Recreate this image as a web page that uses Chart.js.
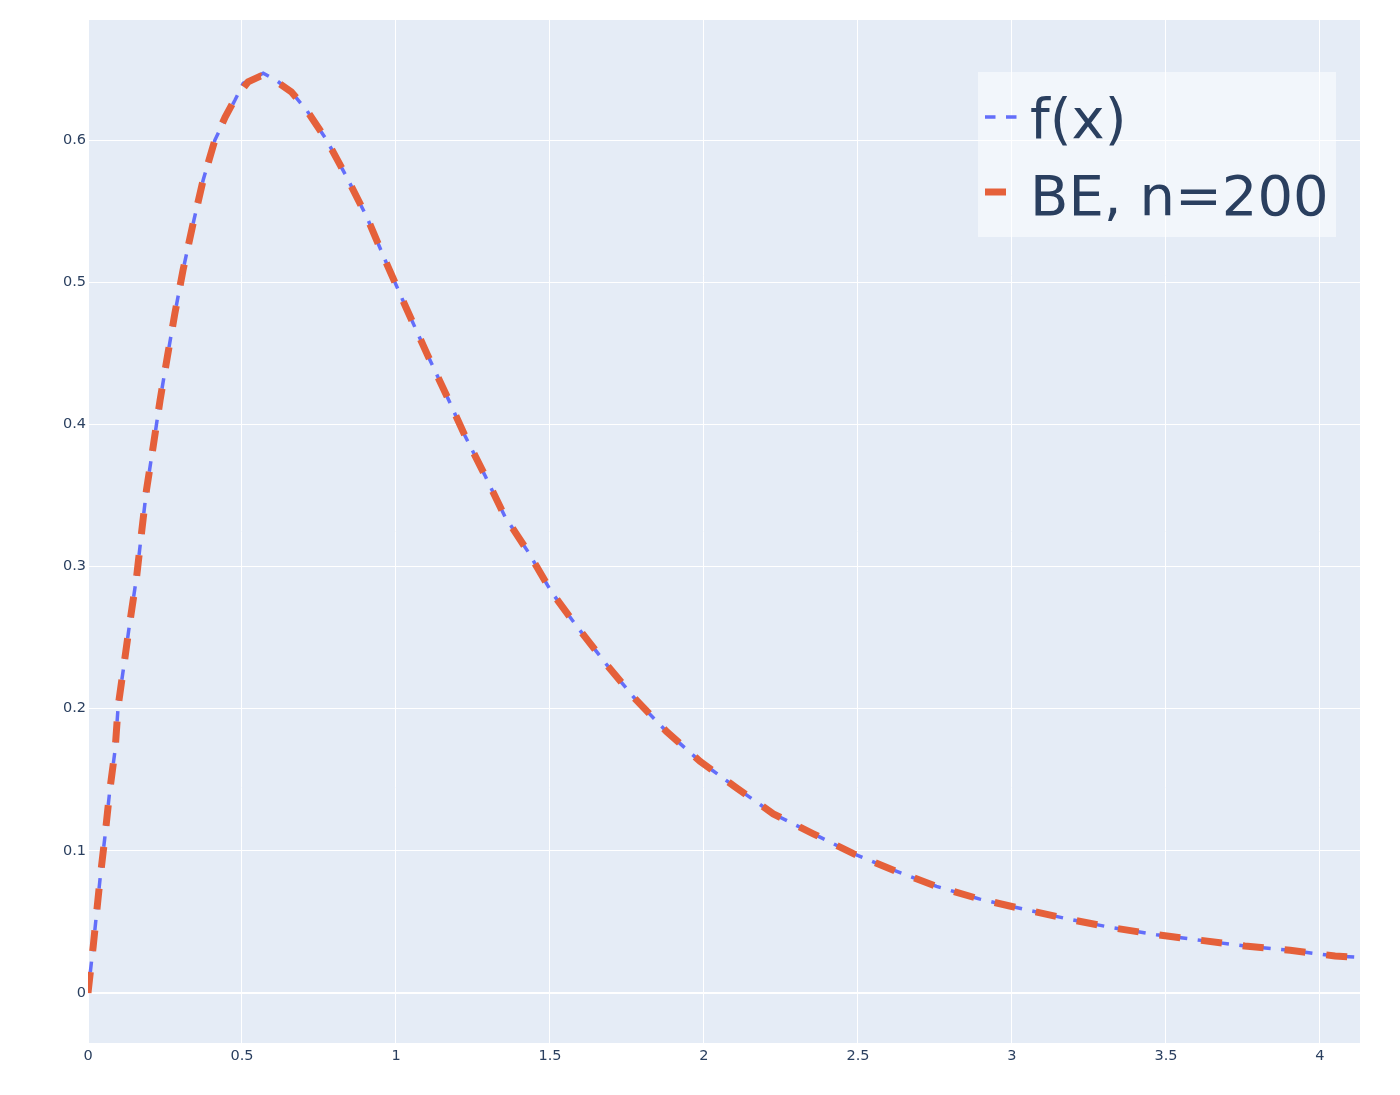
<!DOCTYPE html>
<html>
<head>
<meta charset="utf-8">
<script src="https://cdn.jsdelivr.net/npm/chart.js@4/dist/chart.umd.min.js"></script>
<style>
  html, body { margin: 0; padding: 0; background: #ffffff; }
  #c { display: block; }
</style>
</head>
<body>
<canvas id="c" width="1400" height="1095"></canvas>
<script>
// ---- data ----
const seriesNames = ["f(x)", "BE, n=200"];

const fX = [0, 0.017, 0.039, 0.055, 0.071, 0.088, 0.098, 0.115, 0.136, 0.158, 0.174, 0.190, 0.212, 0.234, 0.258, 0.282,
  0.309, 0.342, 0.374, 0.412, 0.445, 0.477, 0.504, 0.569, 0.612, 0.660, 0.710, 0.775, 0.840, 0.905, 0.970, 1.035, 1.100,
  1.165, 1.224, 1.289, 1.354, 1.430, 1.505, 1.587, 1.684, 1.776, 1.878, 1.987, 2.101, 2.225, 2.355, 2.485, 2.620,
  2.755, 2.896, 3.037, 3.183, 3.323, 3.469, 3.615, 3.756, 3.903, 4.049, 4.13];
const fY = [0, 0.033, 0.080, 0.110, 0.143, 0.171, 0.202, 0.228, 0.261, 0.293, 0.324, 0.354, 0.385, 0.417, 0.448, 0.478,
  0.509, 0.542, 0.572, 0.600, 0.615, 0.628, 0.640, 0.647, 0.642, 0.634, 0.621, 0.600, 0.574, 0.546, 0.513, 0.481, 0.450,
  0.420, 0.392, 0.364, 0.335, 0.310, 0.282, 0.258, 0.231, 0.207, 0.184, 0.163, 0.145, 0.126, 0.112, 0.098, 0.086,
  0.075, 0.066, 0.059, 0.052, 0.046, 0.041, 0.037, 0.033, 0.030, 0.026, 0.025];

const beX = [0, 0.017, 0.039, 0.055, 0.071, 0.088, 0.098, 0.115, 0.136, 0.158, 0.174, 0.190, 0.212, 0.234, 0.258, 0.282,
  0.309, 0.342, 0.374, 0.412, 0.445, 0.477, 0.520, 0.560, 0.600, 0.660, 0.710, 0.775, 0.840, 0.905, 0.970, 1.035, 1.100,
  1.165, 1.224, 1.289, 1.354, 1.430, 1.505, 1.587, 1.684, 1.776, 1.878, 1.987, 2.101, 2.225, 2.355, 2.485, 2.620,
  2.755, 2.896, 3.037, 3.183, 3.323, 3.469, 3.615, 3.756, 3.903, 4.049, 4.13];
const beY = [0, 0.033, 0.080, 0.110, 0.143, 0.171, 0.202, 0.228, 0.261, 0.293, 0.324, 0.354, 0.385, 0.417, 0.448, 0.478,
  0.509, 0.542, 0.572, 0.600, 0.616, 0.629, 0.641, 0.645, 0.643, 0.634, 0.621, 0.600, 0.574, 0.546, 0.513, 0.481, 0.450,
  0.420, 0.392, 0.364, 0.335, 0.310, 0.282, 0.258, 0.231, 0.207, 0.184, 0.163, 0.145, 0.126, 0.112, 0.098, 0.086,
  0.075, 0.066, 0.059, 0.052, 0.046, 0.041, 0.037, 0.033, 0.030, 0.026, 0.025];

const xTicks = [0, 0.5, 1, 1.5, 2, 2.5, 3, 3.5, 4];
const xTickLabels = ["0", "0.5", "1", "1.5", "2", "2.5", "3", "3.5", "4"];
const yTicks = [0, 0.1, 0.2, 0.3, 0.4, 0.5, 0.6];
const yTickLabels = ["0", "0.1", "0.2", "0.3", "0.4", "0.5", "0.6"];
const xRange = [0, 4.13];
const yRange = [-0.0352, 0.6845];

// ---- styling ----
const FONT = "'DejaVu Sans', sans-serif";
const TEXT = "#2a3f5f";
const BLUE = "#636efa";
const ORANGE = "#e5603a";

const toPts = (xs, ys) => xs.map((x, i) => ({ x: x, y: ys[i] }));

const bgPlugin = {
  id: 'plotBg',
  beforeDraw(chart) {
    const { ctx, chartArea: a } = chart;
    ctx.save();
    ctx.fillStyle = '#e5ecf6';
    ctx.fillRect(a.left, a.top, a.right - a.left, a.bottom - a.top);
    ctx.restore();
  }
};

const legendPlugin = {
  id: 'plotLegend',
  afterDraw(chart) {
    const ctx = chart.ctx;
    const ds = chart.data.datasets;
    ctx.save();
    ctx.fillStyle = 'rgba(255,255,255,0.5)';
    ctx.fillRect(978, 72, 358, 165);
    const rows = [117, 192];
    ds.forEach((d, i) => {
      ctx.beginPath();
      ctx.setLineDash(d.borderDash);
      ctx.lineWidth = d.borderWidth;
      ctx.strokeStyle = d.borderColor;
      ctx.moveTo(985, rows[i]);
      ctx.lineTo(1017, rows[i]);
      ctx.stroke();
      ctx.setLineDash([]);
      ctx.fillStyle = TEXT;
      ctx.font = "56px " + FONT;
      ctx.textBaseline = 'alphabetic';
      ctx.textAlign = 'left';
      ctx.fillText(d.label, 1030, rows[i] + (i === 0 ? 21 : 23));
    });
    ctx.restore();
  }
};

new Chart(document.getElementById('c'), {
  type: 'line',
  data: {
    datasets: [
      {
        label: seriesNames[0],
        data: toPts(fX, fY),
        borderColor: BLUE,
        borderWidth: 3.5,
        borderDash: [10.5, 10.5],
        pointRadius: 0,
        tension: 0,
        fill: false,
        order: 1
      },
      {
        label: seriesNames[1],
        data: toPts(beX, beY),
        borderColor: ORANGE,
        borderWidth: 7,
        borderDash: [21, 21],
        pointRadius: 0,
        tension: 0,
        fill: false,
        order: 0
      }
    ]
  },
  options: {
    responsive: false,
    animation: false,
    devicePixelRatio: 1,
    layout: { padding: { left: 0, top: 20, right: 40, bottom: 0 } },
    plugins: {
      legend: { display: false },
      tooltip: { enabled: false }
    },
    scales: {
      x: {
        type: 'linear',
        min: xRange[0],
        max: xRange[1],
        afterBuildTicks: (s) => { s.ticks = xTicks.map(v => ({ value: v })); },
        afterFit: (s) => { s.height = 52; },
        grid: { color: '#ffffff', lineWidth: (c) => (c.tick && c.tick.value === 0 ? 2 : 1), drawTicks: false },
        border: { display: false },
        ticks: {
          padding: 5,
          color: TEXT,
          font: { family: FONT, size: 14.5 },
          maxRotation: 0,
          autoSkip: false,
          callback: (v, i) => xTickLabels[i]
        }
      },
      y: {
        type: 'linear',
        min: yRange[0],
        max: yRange[1],
        afterBuildTicks: (s) => { s.ticks = yTicks.map(v => ({ value: v })); },
        afterFit: (s) => { s.width = 88; },
        grid: { color: '#ffffff', lineWidth: (c) => (c.tick && c.tick.value === 0 ? 2 : 1), drawTicks: false },
        border: { display: false },
        ticks: {
          padding: 2,
          color: TEXT,
          font: { family: FONT, size: 14.5 },
          autoSkip: false,
          callback: (v, i) => yTickLabels[i]
        }
      }
    }
  },
  plugins: [bgPlugin, legendPlugin]
});
</script>
</body>
</html>
